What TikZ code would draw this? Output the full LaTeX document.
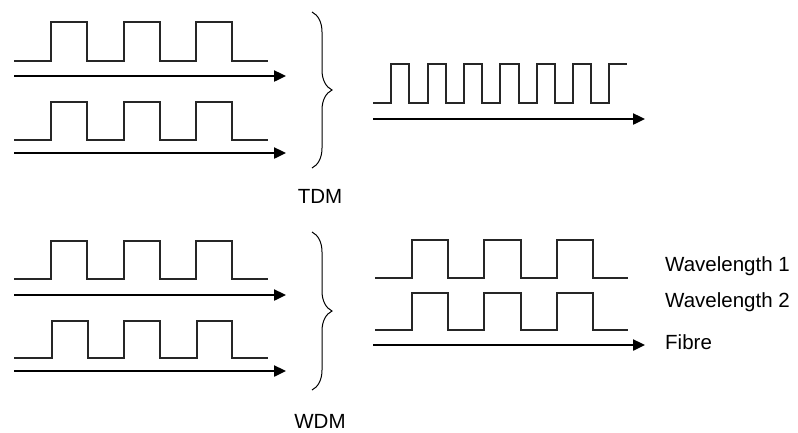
\documentclass[tikz,border=0pt]{standalone}
\usepackage{fontspec}
\setmainfont{Liberation Sans}
\usetikzlibrary{arrows.meta,decorations.pathreplacing}

\begin{document}
\begin{tikzpicture}
[every node/.style={inner sep=0pt, font=\fontsize{20.5pt}{24pt}\selectfont},
 pulse/.style={line width=1.3pt, color=black!85},
 fibre/.style={line width=2.4pt, color=black, -{Triangle[length=12pt, width=11pt]}},
 bracket/.style={line width=1pt, color=black, decorate, decoration={brace, amplitude=20pt, aspect=0.5}}]
\useasboundingbox (0pt, 0pt) rectangle (798pt, -432pt);
% TDM inputs
\draw [pulse] (14pt, -61pt) -- (51pt, -61pt) -- (51pt, -22pt) -- (87pt, -22pt) -- (87pt, -61pt) -- (124pt, -61pt) -- (124pt, -22pt) -- (160pt, -22pt) -- (160pt, -61pt) -- (196pt, -61pt) -- (196pt, -22pt) -- (232pt, -22pt) -- (232pt, -61pt) -- (268pt, -61pt);
\draw [pulse] (14pt, -140pt) -- (51pt, -140pt) -- (51pt, -102pt) -- (87pt, -102pt) -- (87pt, -140pt) -- (124pt, -140pt) -- (124pt, -102pt) -- (160pt, -102pt) -- (160pt, -140pt) -- (196pt, -140pt) -- (196pt, -102pt) -- (232pt, -102pt) -- (232pt, -140pt) -- (268pt, -140pt);
\coordinate (t1a) at (14pt, -76pt);
\coordinate (t1b) at (286pt, -76pt);
\coordinate (t2a) at (14pt, -153pt);
\coordinate (t2b) at (286pt, -153pt);
\draw [fibre] (t1a) -- (t1b);
\draw [fibre] (t2a) -- (t2b);
\coordinate (tbtop) at (312pt, -12pt);
\coordinate (tbbot) at (312pt, -168pt);
\draw [bracket] (tbtop) -- (tbbot);
\node (tdm) [anchor=base] at (320pt, -203pt) {TDM};
% TDM output
\draw [pulse] (373pt, -103pt) -- (391pt, -103pt) -- (391pt, -64pt) -- (409pt, -64pt) -- (409pt, -103pt) -- (428pt, -103pt) -- (428pt, -64pt) -- (446pt, -64pt) -- (446pt, -103pt) -- (464pt, -103pt) -- (464pt, -64pt) -- (482pt, -64pt) -- (482pt, -103pt) -- (500pt, -103pt) -- (500pt, -64pt) -- (519pt, -64pt) -- (519pt, -103pt) -- (537pt, -103pt) -- (537pt, -64pt) -- (555pt, -64pt) -- (555pt, -103pt) -- (573pt, -103pt) -- (573pt, -64pt) -- (591pt, -64pt) -- (591pt, -103pt) -- (609pt, -103pt) -- (609pt, -64pt) -- (627pt, -64pt);
\coordinate (t3a) at (373pt, -119pt);
\coordinate (t3b) at (645pt, -119pt);
\draw [fibre] (t3a) -- (t3b);
% WDM inputs
\draw [pulse] (14pt, -279pt) -- (51pt, -279pt) -- (51pt, -241pt) -- (87pt, -241pt) -- (87pt, -279pt) -- (124pt, -279pt) -- (124pt, -241pt) -- (160pt, -241pt) -- (160pt, -279pt) -- (196pt, -279pt) -- (196pt, -241pt) -- (232pt, -241pt) -- (232pt, -279pt) -- (268pt, -279pt);
\draw [pulse] (14pt, -358pt) -- (52pt, -358pt) -- (52pt, -321pt) -- (88pt, -321pt) -- (88pt, -358pt) -- (124pt, -358pt) -- (124pt, -321pt) -- (160pt, -321pt) -- (160pt, -358pt) -- (197pt, -358pt) -- (197pt, -321pt) -- (232pt, -321pt) -- (232pt, -358pt) -- (268pt, -358pt);
\coordinate (w1a) at (14pt, -295pt);
\coordinate (w1b) at (286pt, -295pt);
\coordinate (w2a) at (14pt, -371pt);
\coordinate (w2b) at (286pt, -371pt);
\draw [fibre] (w1a) -- (w1b);
\draw [fibre] (w2a) -- (w2b);
\coordinate (wbtop) at (312pt, -232pt);
\coordinate (wbbot) at (312pt, -390pt);
\draw [bracket] (wbtop) -- (wbbot);
\node (wdm) [anchor=base] at (320pt, -428pt) {WDM};
% WDM output
\draw [pulse] (375pt, -278pt) -- (412pt, -278pt) -- (412pt, -240pt) -- (448pt, -240pt) -- (448pt, -278pt) -- (484pt, -278pt) -- (484pt, -240pt) -- (521pt, -240pt) -- (521pt, -278pt) -- (557pt, -278pt) -- (557pt, -240pt) -- (593pt, -240pt) -- (593pt, -278pt) -- (628pt, -278pt);
\draw [pulse] (375pt, -330pt) -- (412pt, -330pt) -- (412pt, -293pt) -- (448pt, -293pt) -- (448pt, -330pt) -- (484pt, -330pt) -- (484pt, -293pt) -- (521pt, -293pt) -- (521pt, -330pt) -- (557pt, -330pt) -- (557pt, -293pt) -- (593pt, -293pt) -- (593pt, -330pt) -- (628pt, -330pt);
\coordinate (w3a) at (373pt, -345pt);
\coordinate (w3b) at (645pt, -345pt);
\draw [fibre] (w3a) -- (w3b);
\node (lam1) [anchor=base west] at (665pt, -271pt) {Wavelength 1};
\node (lam2) [anchor=base west] at (665pt, -307pt) {Wavelength 2};
\node (fib) [anchor=base west] at (665pt, -349pt) {Fibre};
\end{tikzpicture}
\end{document}
